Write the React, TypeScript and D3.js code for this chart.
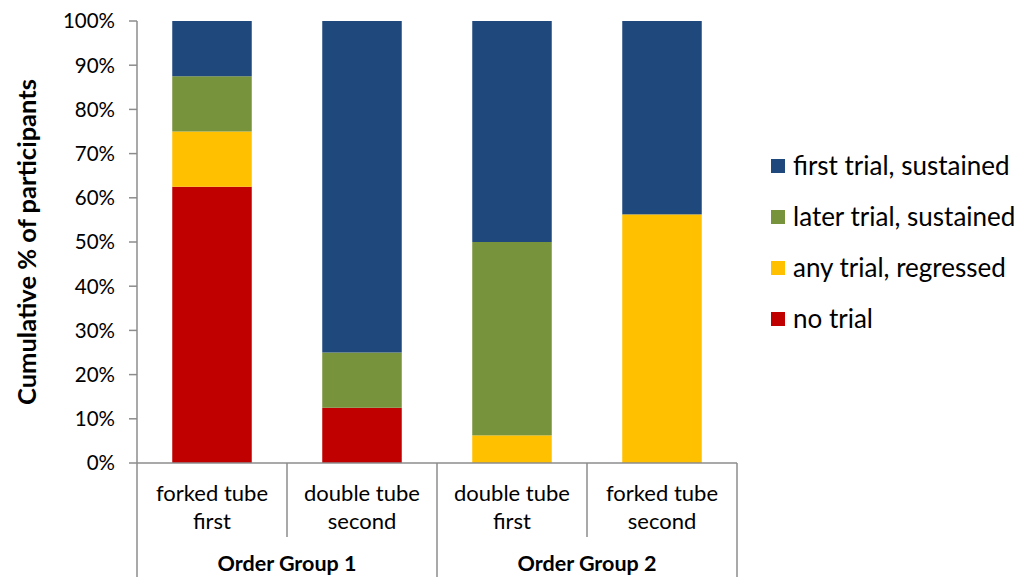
import React from "react";
import * as d3 from "d3";

const categories = ["forked tube first", "double tube second", "double tube first", "forked tube second"];
const categoryLines = [["forked tube", "first"], ["double tube", "second"], ["double tube", "first"], ["forked tube", "second"]];
const groups = ["Order Group 1", "Order Group 2"];
const seriesNames = ["no trial", "any trial, regressed", "later trial, sustained", "first trial, sustained"];
const seriesColors = ["#C00000", "#FFC000", "#77933C", "#1F497D"];
// percent of participants per category, stacked bottom-up
const noTrial = [62.5, 12.5, 0, 0];
const anyRegressed = [12.5, 0, 6.25, 56.25];
const laterSustained = [12.5, 12.5, 43.75, 0];
const firstSustained = [12.5, 75, 50, 43.75];
const yTicks = [0, 10, 20, 30, 40, 50, 60, 70, 80, 90, 100];

const W = 1036, H = 577;
const left = 137, right = 737, top = 21, bottom = 463;
const FONT = "Lato, 'Open Sans', sans-serif";

export default function App() {
  const x = d3.scaleBand<string>().domain(categories).range([left, right]).paddingInner(0.47).paddingOuter(0.235);
  const y = d3.scaleLinear().domain([0, 100]).range([bottom, top]);
  const rows = categories.map((c, i) => ({
    cat: c,
    s0: noTrial[i], s1: anyRegressed[i], s2: laterSustained[i], s3: firstSustained[i],
  }));
  const stack = d3.stack<any>().keys(["s0", "s1", "s2", "s3"])(rows);
  const step = (right - left) / categories.length;
  const axisColor = "#8c8c8c";
  const legendOrder = [3, 2, 1, 0];
  const legendY = d3.scalePoint<number>().domain([0, 1, 2, 3]).range([166, 319]);

  return (
    <svg width={W} height={H} style={{ position: "absolute", left: 0, top: 0, background: "#fff" }}>
      {stack.map((layer, si) =>
        layer.map((d, i) => {
          const h = y(d[0]) - y(d[1]);
          if (h <= 0) return null;
          return (
            <rect key={`${si}-${i}`} x={x(categories[i])} y={y(d[1])} width={x.bandwidth()} height={h}
              fill={seriesColors[si]} />
          );
        })
      )}
      {/* value axis */}
      <line x1={left} x2={left} y1={top} y2={bottom} stroke={axisColor} strokeWidth={1.5} />
      {yTicks.map((t) => (
        <g key={t}>
          <line x1={left - 8} x2={left} y1={y(t)} y2={y(t)} stroke={axisColor} strokeWidth={1.5} />
          <text x={left - 22} y={y(t)} dy="0.36em" textAnchor="end" fontFamily={FONT} fontSize={20.5} fill="#000">{t}%</text>
        </g>
      ))}
      {/* category axis with grouped labels */}
      <line x1={left} x2={right} y1={bottom} y2={bottom} stroke={axisColor} strokeWidth={1.5} />
      {d3.range(categories.length + 1).map((k) => {
        const xx = left + k * step;
        const long = k % 2 === 0;
        return <line key={k} x1={xx} x2={xx} y1={bottom} y2={long ? H : 537} stroke={axisColor} strokeWidth={1.5} />;
      })}
      {categoryLines.map((lines, i) => (
        <text key={i} textAnchor="middle" fontFamily={FONT} fontSize={22} fill="#000">
          {lines.map((l, j) => (
            <tspan key={j} x={(x(categories[i]) as number) + x.bandwidth() / 2} y={501 + j * 28}>{l}</tspan>
          ))}
        </text>
      ))}
      {groups.map((g, gi) => (
        <text key={g} x={left + step * (2 * gi + 1)} y={571} textAnchor="middle" fontFamily={FONT}
          fontWeight="bold" fontSize={21.5} fill="#000">{g}</text>
      ))}
      <text transform={`translate(36,${(top + bottom) / 2}) rotate(-90)`} textAnchor="middle" fontFamily={FONT}
        fontWeight="bold" fontSize={25.5} fill="#000">Cumulative % of participants</text>
      {/* legend */}
      {legendOrder.map((si, k) => (
        <g key={si}>
          <rect x={771} y={legendY(k)! - 7} width={14} height={14} fill={seriesColors[si]} />
          <text x={793} y={legendY(k)} dy="0.36em" fontFamily={FONT} fontSize={26} fill="#000">{seriesNames[si]}</text>
        </g>
      ))}
    </svg>
  );
}
